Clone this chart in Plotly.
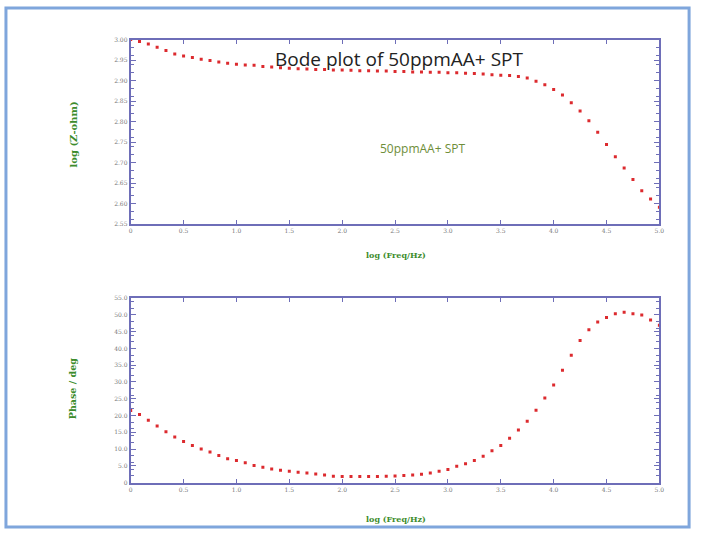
import plotly.graph_objects as go

# ---- data ----
log_freq = [i / 12 for i in range(61)]
log_z = [3.000, 2.995, 2.989, 2.981, 2.973, 2.965, 2.960, 2.956, 2.952, 2.949,
         2.945, 2.942, 2.940, 2.938, 2.937, 2.934, 2.933, 2.931, 2.930, 2.929,
         2.928, 2.927, 2.927, 2.926, 2.926, 2.925, 2.924, 2.924, 2.923, 2.923,
         2.922, 2.922, 2.921, 2.921, 2.920, 2.920, 2.919, 2.919, 2.918, 2.917,
         2.916, 2.914, 2.913, 2.912, 2.910, 2.906, 2.898, 2.890, 2.878, 2.865,
         2.846, 2.826, 2.802, 2.774, 2.744, 2.714, 2.687, 2.659, 2.631, 2.611,
         2.591]
phase = [21.5, 20.3, 18.6, 16.9, 15.2, 13.6, 12.3, 11.1, 10.0, 9.1,
         8.1, 7.1, 6.6, 5.9, 5.1, 4.6, 4.1, 3.7, 3.4, 3.1,
         2.9, 2.6, 2.3, 1.9, 1.8, 1.8, 1.8, 1.8, 1.8, 1.9,
         2.0, 2.1, 2.3, 2.5, 2.9, 3.4, 3.9, 4.9, 5.6, 6.6,
         7.9, 9.5, 11.1, 13.2, 15.7, 18.3, 21.6, 25.2, 29.1, 33.5,
         38.0, 42.4, 45.6, 47.9, 49.2, 50.3, 50.8, 50.3, 50.0, 48.5,
         46.9]
x_ticks = [0, 0.5, 1.0, 1.5, 2.0, 2.5, 3.0, 3.5, 4.0, 4.5, 5.0]
x_ticktext = ["0", "0.5", "1.0", "1.5", "2.0", "2.5", "3.0", "3.5", "4.0", "4.5", "5.0"]
z_ticks = [2.55, 2.60, 2.65, 2.70, 2.75, 2.80, 2.85, 2.90, 2.95, 3.00]
z_ticktext = ["2.55", "2.60", "2.65", "2.70", "2.75", "2.80", "2.85", "2.90", "2.95", "3.00"]
ph_ticks = [0, 5, 10, 15, 20, 25, 30, 35, 40, 45, 50, 55]
ph_ticktext = ["0", "5.0", "10.0", "15.0", "20.0", "25.0", "30.0", "35.0", "40.0", "45.0", "50.0", "55.0"]

W, H = 703, 535
AX = "#6e6eb8"
RED = "#dc2a2e"
GREEN = "#3c8c2c"

def px(x):
    return x / W

def py(y):
    return 1 - y / H

fig = go.Figure()
marker = dict(symbol="square", size=3, color=RED, line=dict(width=0))
fig.add_trace(go.Scatter(x=log_freq, y=log_z, mode="markers", marker=marker,
                         xaxis="x", yaxis="y", showlegend=False))
fig.add_trace(go.Scatter(x=log_freq, y=phase, mode="markers", marker=marker,
                         xaxis="x2", yaxis="y2", showlegend=False))

def xaxis(anchor, domain):
    return dict(domain=domain, anchor=anchor, range=[0, 5.0], tickvals=x_ticks,
                ticktext=x_ticktext, showgrid=False, zeroline=False,
                showline=True, linecolor=AX, linewidth=2, mirror="ticks",
                ticks="inside", ticklen=4, tickcolor=AX,
                minor=dict(ticks="inside", ticklen=2, tickcolor=AX, nticks=5),
                tickfont=dict(size=6, color="#777", family="DejaVu Serif"))

def yaxis(anchor, domain, rng, tv, tt):
    return dict(domain=domain, anchor=anchor, range=rng, tickvals=tv, ticktext=tt,
                showgrid=False, zeroline=False, showline=True, linecolor=AX,
                linewidth=2, mirror="ticks", ticks="inside", ticklen=5, tickcolor=AX,
                minor=dict(ticks="inside", ticklen=3, tickcolor=AX, nticks=6),
                tickfont=dict(size=6, color="#777", family="DejaVu Serif"))

xdom = [px(130), px(664)]
fig.update_layout(
    width=W, height=H, margin=dict(l=0, r=0, t=0, b=0),
    paper_bgcolor="white", plot_bgcolor="white",
    xaxis=xaxis("y", xdom),
    yaxis=yaxis("x", [py(223), py(36)], [2.55, 3.00], z_ticks, z_ticktext),
    xaxis2=xaxis("y2", xdom),
    yaxis2=yaxis("x2", [py(485), py(298)], [0, 55], ph_ticks, ph_ticktext),
)

ann = []
def add(text, x, y, size, color, family, bold=False, angle=0):
    t = f"<b>{text}</b>" if bold else text
    ann.append(dict(text=t, x=px(x), y=py(y), xref="paper", yref="paper",
                    showarrow=False, textangle=angle,
                    font=dict(size=size, color=color, family=family),
                    xanchor="center", yanchor="middle"))

add("Bode plot of 50ppmAA+ SPT", 401, 56, 19, "#222222", "Open Sans")
add("50ppmAA+ SPT", 425, 146, 12, "#6e8e3a", "Open Sans")
add("log (Z-ohm)", 72, 132, 10, GREEN, "DejaVu Serif", bold=True, angle=-90)
add("Phase / deg", 72, 390, 9.5, GREEN, "DejaVu Serif", bold=True, angle=-90)
add("log (Freq/Hz)", 398, 254, 8, GREEN, "DejaVu Serif", bold=True)
add("log (Freq/Hz)", 398, 522, 8, GREEN, "DejaVu Serif", bold=True)
fig.update_layout(annotations=ann)

fig.add_shape(type="rect", xref="paper", yref="paper",
              x0=px(4), x1=px(694), y0=py(530), y1=py(4),
              line=dict(color="#7fa6dc", width=3), fillcolor="rgba(0,0,0,0)")

fig.write_html("out.html")
